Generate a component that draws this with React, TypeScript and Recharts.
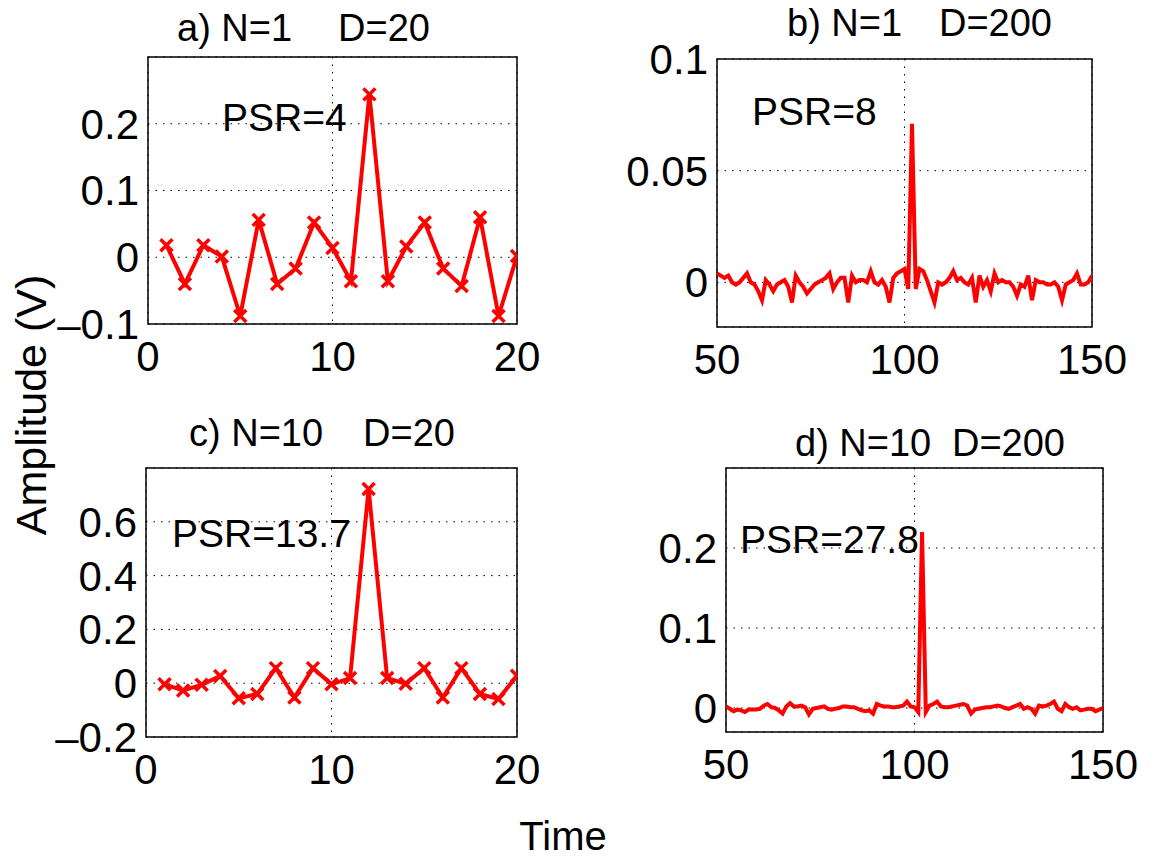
import React from 'react';
import { LineChart, Line, XAxis, YAxis, CartesianGrid, ReferenceArea } from 'recharts';

// Four MATLAB-style subplots: autocorrelation output for N/D combinations

const FONT = '"Liberation Sans", Arial, Helvetica, sans-serif';

const shortTime = [1, 2, 3, 4, 5, 6, 7, 8, 9, 10, 11, 12, 13, 14, 15, 16, 17, 18, 19, 20];
const longTime = Array.from({ length: 101 }, (_, i) => 50 + i);

// a) N=1 D=20
const ampA = [0.018, -0.04, 0.018, 0.001, -0.088, 0.056, -0.04, -0.017, 0.052, 0.014,
  -0.036, 0.244, -0.036, 0.016, 0.052, -0.017, -0.043, 0.06, -0.088, 0.002];

// c) N=10 D=20
const ampC = [-0.004, -0.027, -0.006, 0.027, -0.056, -0.04, 0.056, -0.053, 0.056, -0.004,
  0.019, 0.722, 0.019, -0.002, 0.056, -0.053, 0.056, -0.04, -0.059, 0.028];

// b) N=1 D=200, t = 50..150
const ampB = [
  0.004, 0.003, 0.002, 0.003, 0.0, -0.001, 0.0, 0.002, 0.004, 0.0,
  -0.001, -0.004, -0.008, 0.001, -0.001, -0.004, -0.001, 0.0, 0.001, -0.002,
  -0.009, 0.003, 0.0, -0.002, -0.005, -0.003, -0.001, 0.0, 0.001, 0.002,
  0.004, -0.003, 0.0, 0.002, 0.002, -0.009, 0.003, 0.0, 0.001, 0.001,
  0.0, 0.005, 0.0, -0.001, 0.001, -0.002, -0.009, 0.002, 0.004, 0.005,
  0.006, -0.003, 0.071, -0.003, 0.006, 0.005, 0.001, -0.004, -0.009, 0.0,
  -0.001, 0.0, 0.002, 0.005, 0.001, 0.002, 0.0, -0.001, 0.002, -0.009,
  0.003, -0.002, 0.001, -0.004, 0.004, 0.0, 0.001, 0.0, 0.0, -0.002,
  -0.006, -0.001, -0.002, 0.003, -0.008, 0.001, 0.0, 0.0, -0.001, -0.001,
  0.0, -0.002, -0.008, -0.001, 0.0, 0.001, 0.004, -0.001, -0.001, 0.0,
  0.003,
];

// d) N=10 D=200, t = 50..150
const ampD = [
  0.002, -0.001, -0.004, -0.002, -0.003, -0.005, -0.002, -0.002, -0.002, -0.001,
  0.003, 0.005, 0.001, 0.0, -0.003, -0.007, 0.002, 0.006, 0.002, 0.002,
  0.003, 0.001, -0.008, -0.001, 0.0, 0.001, 0.002, -0.001, -0.002, -0.001,
  0.0, 0.002, 0.002, 0.001, 0.001, -0.001, -0.003, -0.004, -0.003, -0.007,
  0.005, 0.003, 0.002, 0.002, 0.001, 0.001, 0.002, 0.003, 0.008, 0.002,
  0.001, -0.005, 0.22, -0.005, 0.003, 0.005, 0.008, 0.002, 0.001, 0.001,
  0.002, 0.003, 0.004, 0.005, 0.003, -0.007, -0.002, -0.001, 0.0, 0.001,
  0.001, 0.002, 0.003, 0.002, 0.0, -0.001, 0.001, 0.003, 0.005, -0.001,
  0.001, -0.001, -0.007, 0.003, 0.002, 0.003, 0.005, 0.008, -0.001, -0.004,
  0.005, 0.001, -0.001, 0.001, -0.003, -0.002, -0.001, -0.001, -0.004, -0.002,
  0.0,
];

const shortTicks = [0, 10, 20];
const longTicks = [50, 100, 150];
const ticksA = [-0.1, 0, 0.1, 0.2];
const ticksB = [0, 0.05, 0.1];
const ticksC = [-0.2, 0, 0.2, 0.4, 0.6];
const ticksD = [0, 0.1, 0.2];

const toRows = (xs: number[], ys: number[]) => xs.map((x, i) => ({ x, y: ys[i] }));

const fmt = (v: number) => (v < 0 ? '\u2013' + String(Math.abs(v)) : String(v));

const Cross = (props: any) => {
  const { cx, cy } = props;
  if (cx == null || cy == null) return null;
  const r = 6;
  return (
    <path
      d={`M${cx - r},${cy - r}L${cx + r},${cy + r}M${cx - r},${cy + r}L${cx + r},${cy - r}`}
      stroke="#ff0000"
      strokeWidth={3.5}
      fill="none"
    />
  );
};

interface Box { left: number; top: number; right: number; bottom: number }

interface PanelProps {
  box: Box;
  rows: { x: number; y: number }[];
  xDomain: [number, number];
  xTicks: number[];
  yDomain: [number, number];
  yTicks: number[];
  markers?: boolean;
}

const tickStyle = { fill: '#000', fontSize: 42, fontFamily: FONT };

function Panel({ box, rows, xDomain, xTicks, yDomain, yTicks, markers }: PanelProps) {
  const padL = 130, padT = 40, padR = 40, padB = 70;
  const w = box.right - box.left + padL + padR;
  const h = box.bottom - box.top + padT + padB;
  return (
    <div style={{ position: 'absolute', left: box.left - padL, top: box.top - padT }}>
      <LineChart width={w} height={h} data={rows} margin={{ top: padT, right: padR, bottom: 0, left: 0 }}>
        <CartesianGrid stroke="#000" strokeDasharray="1.5 6" />
        <XAxis
          type="number"
          dataKey="x"
          domain={xDomain}
          ticks={xTicks}
          interval={0}
          height={padB}
          axisLine={false}
          tickLine={false}
          tickSize={0}
          tickMargin={17}
          tick={tickStyle}
          allowDataOverflow
        />
        <YAxis
          type="number"
          domain={yDomain}
          ticks={yTicks}
          interval={0}
          width={padL}
          axisLine={false}
          tickLine={false}
          tickSize={0}
          tickMargin={9}
          tick={tickStyle}
          tickFormatter={fmt}
          allowDataOverflow
        />
        <ReferenceArea
          x1={xDomain[0]}
          x2={xDomain[1]}
          y1={yDomain[0]}
          y2={yDomain[1]}
          fill="none"
          fillOpacity={0}
          stroke="#000"
          strokeWidth={1.5}
        />
        <Line
          type="linear"
          dataKey="y"
          stroke="#ff0000"
          strokeWidth={4}
          dot={markers ? (p: any) => <Cross key={`m-${p.index}`} cx={p.cx} cy={p.cy} /> : false}
          activeDot={false}
          isAnimationActive={false}
        />
      </LineChart>
    </div>
  );
}

const txt = { fontFamily: FONT, fill: '#000' };

export default function App() {
  return (
    <div style={{ position: 'absolute', left: 0, top: 0, width: 1150, height: 861, background: '#fff', overflow: 'hidden' }}>
      <Panel box={{ left: 148, top: 57, right: 517, bottom: 324 }} rows={toRows(shortTime, ampA)}
        xDomain={[0, 20]} xTicks={shortTicks} yDomain={[-0.1, 0.3]} yTicks={ticksA} markers />
      <Panel box={{ left: 717, top: 59, right: 1092, bottom: 327 }} rows={toRows(longTime, ampB)}
        xDomain={[50, 150]} xTicks={longTicks} yDomain={[-0.02, 0.1]} yTicks={ticksB} />
      <Panel box={{ left: 146, top: 468, right: 517, bottom: 737 }} rows={toRows(shortTime, ampC)}
        xDomain={[0, 20]} xTicks={shortTicks} yDomain={[-0.2, 0.8]} yTicks={ticksC} markers />
      <Panel box={{ left: 726, top: 468, right: 1103, bottom: 732 }} rows={toRows(longTime, ampD)}
        xDomain={[50, 150]} xTicks={longTicks} yDomain={[-0.03, 0.3]} yTicks={ticksD} />

      <svg width={1150} height={861} style={{ position: 'absolute', left: 0, top: 0, pointerEvents: 'none' }}>
        <text x={177} y={41} fontSize={38} {...txt}>a) N=1</text>
        <text x={430} y={41} fontSize={38} textAnchor="end" {...txt}>D=20</text>
        <text x={787} y={36} fontSize={38} {...txt}>b) N=1</text>
        <text x={1052} y={36} fontSize={38} textAnchor="end" {...txt}>D=200</text>
        <text x={189} y={446} fontSize={38} {...txt}>c) N=10</text>
        <text x={455} y={446} fontSize={38} textAnchor="end" {...txt}>D=20</text>
        <text x={795} y={456} fontSize={38} {...txt}>d) N=10</text>
        <text x={1065} y={456} fontSize={38} textAnchor="end" {...txt}>D=200</text>

        <text x={222} y={131} fontSize={39} {...txt}>PSR=4</text>
        <text x={752} y={125} fontSize={39} {...txt}>PSR=8</text>
        <text x={172} y={547} fontSize={39} {...txt}>PSR=13.7</text>
        <text x={740} y={553} fontSize={39} {...txt}>PSR=27.8</text>

        <text x={0} y={0} fontSize={43} textAnchor="middle" transform="translate(46,405) rotate(-90)" {...txt}>Amplitude (V)</text>
        <text x={563} y={850} fontSize={40} textAnchor="middle" {...txt}>Time</text>
      </svg>
    </div>
  );
}
